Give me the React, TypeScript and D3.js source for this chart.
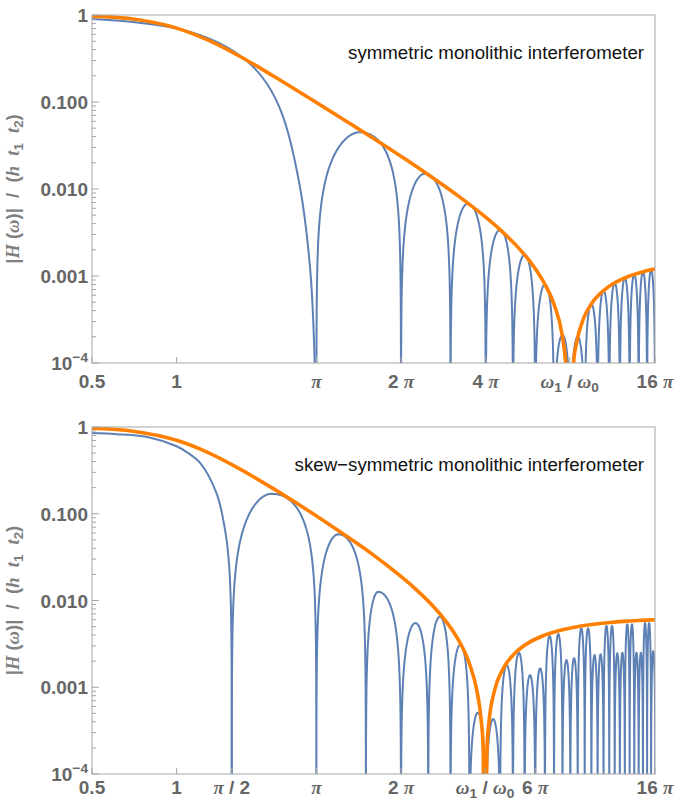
import React from 'react';
import * as d3 from 'd3';

const W = 677;
const H = 800;
const LEFT = 92;
const RIGHT = 655;
const X_DOMAIN = [0.5, 50.27];
const Y_DOMAIN = [1e-4, 1];

const SANS = '"Liberation Sans", Arial, sans-serif';
const SERIF = '"Liberation Serif", "Times New Roman", serif';
const BLUE = '#5e81b5';
const ORANGE = '#ff8000';
const FRAME = '#a6a6a6';
const TICK_TEXT = '#666666';

// ---- top panel: symmetric ----
const topOrangeX = [0.5, 0.7, 1.0, 1.3, 1.7, 2.2, 3.0, 4.0, 5.0, 6.5, 8.0, 10, 12, 14, 16, 18, 20, 22, 23.5, 24.2, 24.7, 25.0, 25.3, 25.8, 26.5, 28, 30, 33, 36, 40, 44, 48, 50.27];
const topOrangeY = [0.97, 0.9, 0.707, 0.51, 0.327, 0.2, 0.108, 0.0605, 0.0384, 0.0221, 0.014, 0.0084, 0.00534, 0.0035, 0.00231, 0.00149, 0.0009, 0.00047, 0.000211, 0.0001, 0.00003, 0.000001, 0.000021, 0.0001, 0.000176, 0.000325, 0.000489, 0.00068, 0.00083, 0.000975, 0.00108, 0.00117, 0.0012];
// blue, before the first zero
const topHeadX = [0.5, 0.7, 1.0, 1.39, 1.79, 2.09, 2.39, 2.745, 2.98, 3.08, 3.13, 3.1416];
const topHeadY = [0.9, 0.83, 0.7, 0.49, 0.29, 0.164, 0.068, 0.0106, 0.00128, 0.00018, 0.000007, 1e-8];
// blue zeros, lobe maxima between them, and where the first maxima sit
const topZeros = [3.14, 6.28, 9.42, 12.57, 15.71, 18.85, 21.99, 25.13, 28.27, 31.42, 34.56, 37.7, 40.84, 43.98, 47.12, 50.27];
const topPeaks = [0.045, 0.015, 0.0068, 0.0034, 0.00175, 0.0008, 0.00021, 0.0002, 0.00048, 0.00068, 0.00083, 0.00095, 0.00104, 0.00112, 0.00118];
const topPeakAt = [4.49, 7.64, 10.87];
const topTicks = [0.5, 1, 3.1416, 6.2832, 12.566, 25, 50.27];
const topTickLabels = ['0.5', '1', 'π', '2 π', '4 π', 'ω_1 / ω_0', '16 π'];

// ---- bottom panel: skew-symmetric ----
const botOrangeX = [0.5, 0.7, 1.0, 1.3, 1.7, 2.2, 3.0, 4.0, 5.0, 6.0, 7.0, 8.0, 9.0, 10.0, 11.0, 11.7, 12.1, 12.3, 12.5, 12.7, 12.9, 13.5, 14.5, 16, 18, 20, 23, 26, 30, 35, 40, 45, 50.27];
const botOrangeY = [0.968, 0.895, 0.703, 0.504, 0.321, 0.196, 0.104, 0.0557, 0.0336, 0.0213, 0.014, 0.00923, 0.00595, 0.0036, 0.00186, 0.0009, 0.00043, 0.00021, 0.000001, 0.0002, 0.00039, 0.00091, 0.00164, 0.00249, 0.00331, 0.0039, 0.00451, 0.00492, 0.00529, 0.00558, 0.00578, 0.0059, 0.006];
const botHeadX = [0.5, 0.612, 0.8, 1.0, 1.1, 1.21, 1.39, 1.5, 1.54, 1.56, 1.567, 1.5702, 1.5708];
const botHeadY = [0.85, 0.826, 0.757, 0.6, 0.5, 0.388, 0.168, 0.054, 0.023, 0.0082, 0.0029, 0.0005, 1e-8];
const botZeros = [1.57, 3.14, 4.71, 6.28, 7.85, 9.42, 11.0, 12.57, 14.14, 15.71, 17.28, 18.85, 20.42, 21.99, 23.56, 25.13, 26.7, 28.27, 29.85, 31.42, 32.99, 34.56, 36.13, 37.7, 39.27, 40.84, 42.41, 43.98, 45.55, 47.12, 48.69, 50.4];
const botPeaks = [0.17, 0.058, 0.0126, 0.0055, 0.0065, 0.0031, 0.00051, 0.00043, 0.0018, 0.0025, 0.00138, 0.00165, 0.0039, 0.0041, 0.00206, 0.00216, 0.00478, 0.00478, 0.00235, 0.0024, 0.0051, 0.0051, 0.00246, 0.0025, 0.0053, 0.0053, 0.0025, 0.0025, 0.0055, 0.0055, 0.0026];
const botPeakAt = [2.18, 3.76, 5.21];
const botTicks = [0.5, 1, 1.5708, 3.1416, 6.2832, 12.5, 18.85, 50.27];
const botTickLabels = ['0.5', '1', 'π / 2', 'π', '2 π', 'ω_1 / ω_0', '6 π', '16 π'];

const yTicks = [1, 0.1, 0.01, 0.001, 1e-4];
const yTickLabels = ['1', '0.100', '0.010', '0.001', '10^−4'];
const yTitle = '|H (ω)|  /  (h  t_1  t_2)';

type Part = { t: string; it?: boolean; sub?: boolean; sup?: boolean };

function parseLabel(s: string, italics: string): Part[] {
  const parts: Part[] = [];
  let i = 0;
  while (i < s.length) {
    const c = s[i];
    if (c === '_') {
      parts.push({ t: s[i + 1], sub: true });
      i += 2;
    } else if (c === '^') {
      parts.push({ t: s.slice(i + 1), sup: true });
      i = s.length;
    } else if (italics.includes(c)) {
      parts.push({ t: c, it: true });
      i++;
    } else {
      let j = i;
      while (j < s.length && !('_^' + italics).includes(s[j])) j++;
      parts.push({ t: s.slice(i, j) });
      i = j;
    }
  }
  return parts;
}

function Rich({ text, italics, size }: { text: string; italics: string; size: number }) {
  const parts = parseLabel(text, italics);
  let shift = 0;
  return (
    <>
      {parts.map((p, k) => {
        const target = p.sub ? size * 0.22 : p.sup ? -size * 0.42 : 0;
        const dy = target - shift;
        shift = target;
        return (
          <tspan
            key={k}
            dy={dy}
            fontSize={p.sub || p.sup ? size * 0.72 : size}
            fontStyle={p.it ? 'italic' : 'normal'}
            fontFamily={p.it ? SERIF : SANS}
          >
            {p.t}
          </tspan>
        );
      })}
    </>
  );
}

// each lobe rises from one zero to its maximum and falls to the next zero
// (quarter sine on each side, sampled densely near the zeros)
function lobePoints(zeros: number[], peaks: number[], peakAt: number[]): [number, number][] {
  const pts: [number, number][] = [];
  const n = 30;
  peaks.forEach((p, i) => {
    const a = zeros[i];
    const b = zeros[i + 1];
    const m = peakAt[i] ?? (a + b) / 2;
    for (let k = 0; k <= n; k++) {
      const u = 1 - Math.cos((Math.PI / 2) * (k / n));
      pts.push([a + (m - a) * u, Math.max(p * Math.sin((Math.PI / 2) * u), 1e-8)]);
    }
    for (let k = n - 1; k >= 0; k--) {
      const u = 1 - Math.cos((Math.PI / 2) * (k / n));
      pts.push([b - (b - m) * u, Math.max(p * Math.sin((Math.PI / 2) * u), 1e-8)]);
    }
  });
  return pts;
}

type PanelProps = {
  id: string;
  top: number;
  bottom: number;
  orangeX: number[];
  orangeY: number[];
  headX: number[];
  headY: number[];
  zeros: number[];
  peaks: number[];
  peakAt: number[];
  ticks: number[];
  tickLabels: string[];
  labelY: number;
  note: string;
  noteY: number;
};

function Panel(props: PanelProps) {
  const { id, top, bottom } = props;
  const x = d3.scaleLog().domain(X_DOMAIN).range([LEFT, RIGHT]);
  const y = d3.scaleLog().domain(Y_DOMAIN).range([bottom, top]);

  const line = d3
    .line<[number, number]>()
    .x((d) => x(d[0]))
    .y((d) => y(d[1]));

  const orangePath = line.curve(d3.curveMonotoneX)(props.orangeX.map((v, i) => [v, props.orangeY[i]]));
  const headPath = line.curve(d3.curveCatmullRom.alpha(0.5))(props.headX.map((v, i) => [v, props.headY[i]]));
  const lobePath = line.curve(d3.curveLinear)(lobePoints(props.zeros, props.peaks, props.peakAt));

  const minor: number[] = [];
  for (let e = -4; e < 0; e++) for (let m = 2; m <= 9; m++) minor.push(m * Math.pow(10, e));

  return (
    <g>
      <defs>
        <clipPath id={id}>
          <rect x={LEFT} y={top} width={RIGHT - LEFT} height={bottom - top} />
        </clipPath>
      </defs>
      <g clipPath={`url(#${id})`} fill="none">
        <path d={headPath || ''} stroke={BLUE} strokeWidth={2} />
        <path d={lobePath || ''} stroke={BLUE} strokeWidth={2} strokeLinejoin="round" />
        <path d={orangePath || ''} stroke={ORANGE} strokeWidth={3.6} />
      </g>
      <rect x={LEFT} y={top} width={RIGHT - LEFT} height={bottom - top} fill="none" stroke={FRAME} strokeWidth={1} />
      {yTicks.map((v) => (
        <line key={v} x1={LEFT} x2={LEFT + 7} y1={y(v)} y2={y(v)} stroke={FRAME} />
      ))}
      {minor.map((v) => (
        <line key={v} x1={LEFT} x2={LEFT + 4} y1={y(v)} y2={y(v)} stroke={FRAME} />
      ))}
      {props.ticks.map((v) => (
        <line key={v} x1={x(v)} x2={x(v)} y1={bottom} y2={bottom - 6} stroke={FRAME} />
      ))}
      <g fill={TICK_TEXT} fontWeight="bold" fontFamily={SANS}>
        {yTicks.map((v, i) => (
          <text key={v} x={LEFT - 4} y={y(v) + 7} textAnchor="end" fontSize={19}>
            <Rich text={yTickLabels[i]} italics="" size={19} />
          </text>
        ))}
        {props.ticks.map((v, i) => (
          <text key={v} x={x(v)} y={props.labelY} textAnchor="middle" fontSize={19}>
            <Rich text={props.tickLabels[i]} italics="πω" size={19} />
          </text>
        ))}
      </g>
      <text
        transform={`translate(19,${(top + bottom) / 2}) rotate(-90)`}
        textAnchor="middle"
        fill="#808080"
        fontWeight="bold"
        fontSize={18.5}
        style={{ whiteSpace: 'pre' }}
      >
        <Rich text={yTitle} italics="Hωht" size={18.5} />
      </text>
      <text x={644} y={props.noteY} textAnchor="end" fontFamily={SANS} fontSize={18.7} fill="#111">
        {props.note}
      </text>
    </g>
  );
}

export default function App() {
  return (
    <div style={{ position: 'absolute', left: 0, top: 0 }}>
      <svg width={W} height={H} viewBox={`0 0 ${W} ${H}`} style={{ display: 'block', background: '#fff' }}>
        <Panel
          id="clip-top"
          top={15}
          bottom={363}
          orangeX={topOrangeX}
          orangeY={topOrangeY}
          headX={topHeadX}
          headY={topHeadY}
          zeros={topZeros}
          peaks={topPeaks}
          peakAt={topPeakAt}
          ticks={topTicks}
          tickLabels={topTickLabels}
          labelY={388}
          note="symmetric monolithic interferometer"
          noteY={59}
        />
        <Panel
          id="clip-bot"
          top={427}
          bottom={774}
          orangeX={botOrangeX}
          orangeY={botOrangeY}
          headX={botHeadX}
          headY={botHeadY}
          zeros={botZeros}
          peaks={botPeaks}
          peakAt={botPeakAt}
          ticks={botTicks}
          tickLabels={botTickLabels}
          labelY={794}
          note="skew−symmetric monolithic interferometer"
          noteY={471}
        />
      </svg>
    </div>
  );
}
